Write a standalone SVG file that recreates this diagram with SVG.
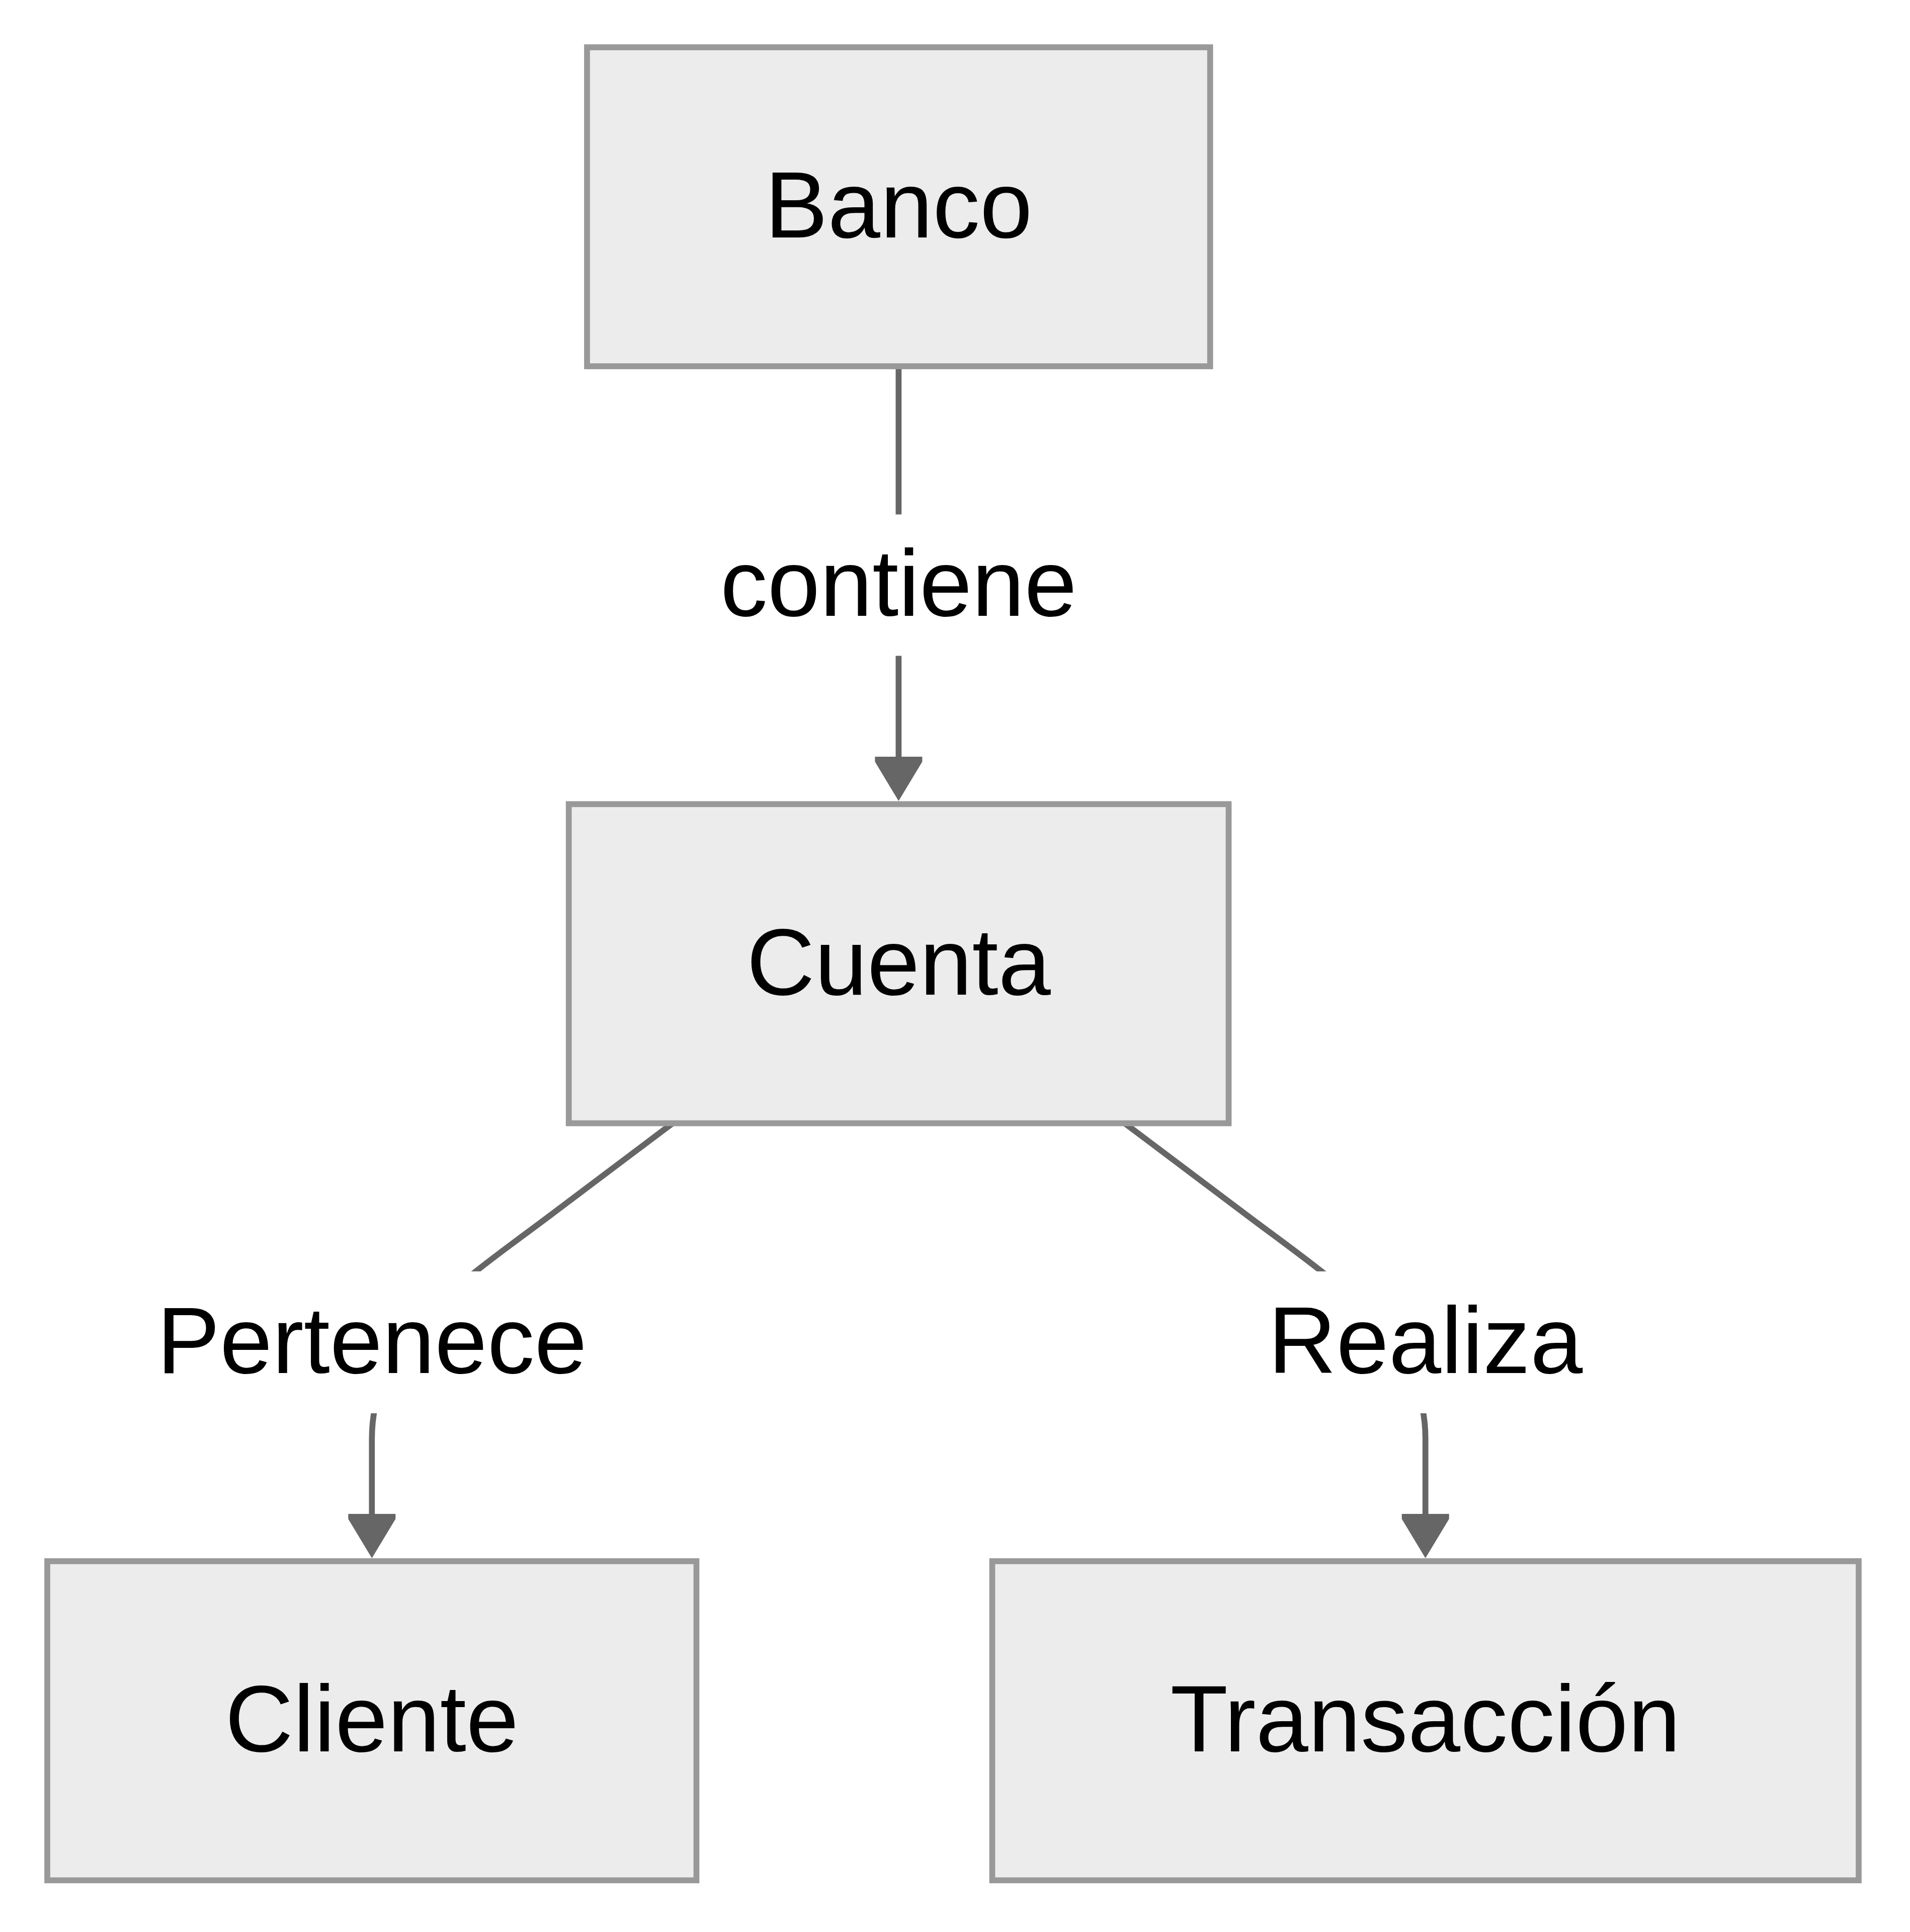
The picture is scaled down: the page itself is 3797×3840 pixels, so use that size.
<svg xmlns="http://www.w3.org/2000/svg" width="3797" height="3840" viewBox="0 0 3797 3840">
<defs>
<style>
.node rect{fill:#ececec;stroke:#999999;stroke-width:11.7}
.node text{font-family:"Liberation Sans",Arial,sans-serif;font-size:187.5px;fill:#000000;text-anchor:middle}
.edge{fill:none;stroke:#666666;stroke-width:11.7}
.lbl rect{fill:#ffffff;stroke:none}
.lbl text{font-family:"Liberation Sans",Arial,sans-serif;font-size:187.5px;fill:#000000;text-anchor:middle}
</style>
<marker id="arrow" markerUnits="userSpaceOnUse" refX="0" refY="0" markerWidth="200" markerHeight="200" orient="auto" overflow="visible">
<path d="M0,-47 L10,-47 L88,0 L10,47 L0,47 Z" fill="#666666"/>
</marker>
</defs>
<rect x="0" y="0" width="3797" height="3840" fill="#ffffff"/>
<g id="connectors">
<path class="edge" d="M1786.4,728 L1786.4,1504" marker-end="url(#arrow)"/>
<path class="edge" d="M1336.5,2233 L1088,2420 C915,2550 739.3,2660 739.3,2860 L739.3,3009" marker-end="url(#arrow)"/>
<path class="edge" d="M2236.5,2233 L2485,2420 C2658,2550 2833.7,2660 2833.7,2860 L2833.7,3009" marker-end="url(#arrow)"/>
<g class="lbl" id="label-contiene">
<rect x="1432" y="1022.5" width="709" height="281"/>
<text x="1786.4" y="1224">contiene</text>
</g>
<g class="lbl" id="label-pertenece">
<rect x="312" y="2527" width="855" height="282"/>
<text x="739.3" y="2729">Pertenece</text>
</g>
<g class="lbl" id="label-realiza">
<rect x="2521" y="2527" width="625" height="282"/>
<text x="2833.7" y="2729">Realiza</text>
</g>
</g>
<g id="node-banco" class="node">
<rect x="1167" y="94" width="1238.7" height="634"/>
<text x="1786.4" y="472">Banco</text>
</g>
<g id="node-cuenta" class="node">
<rect x="1130.7" y="1598.3" width="1311.8" height="634.3"/>
<text x="1786.6" y="1976.5">Cuenta</text>
</g>
<g id="node-cliente" class="node">
<rect x="94" y="3103" width="1290.5" height="634.3"/>
<text x="739.3" y="3481">Cliente</text>
</g>
<g id="node-transaccion" class="node">
<rect x="1972.5" y="3103" width="1722.5" height="634.3"/>
<text x="2833.7" y="3481">Transacción</text>
</g>
</svg>
